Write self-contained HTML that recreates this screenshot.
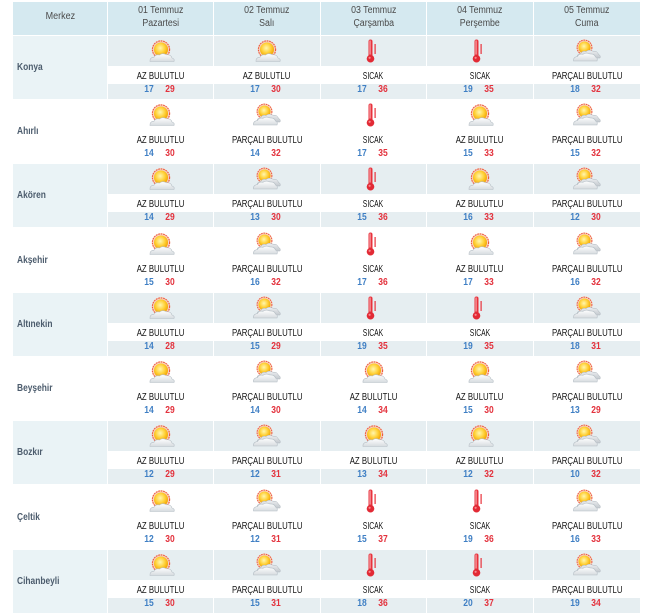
<!DOCTYPE html>
<html><head><meta charset="utf-8">
<style>
*{box-sizing:border-box}
body{margin:0;background:#fff;width:653px;height:615px;position:relative;overflow:hidden;font-family:"Liberation Sans","DejaVu Sans",sans-serif}
.h{position:absolute;top:2px;height:33px;background:#d5e9f0;text-align:center;color:#4a4a4a;font-size:10px;padding-top:2px}
.h span{display:inline-block;transform:scaleX(.88);line-height:13px}
.h.mk{line-height:30px;padding-top:0}
.h.mk span{line-height:30px;transform:scaleX(.9)}
.r{position:absolute;left:0;width:653px;height:63px}
.m{position:absolute;left:13px;width:94px;top:0;height:63px;line-height:63px;padding-left:4px;font-size:10px;font-weight:bold;color:#4c5c6d}
.m span{display:inline-block;transform:scaleX(.84);transform-origin:0 50%}
.d{position:absolute;top:0;height:63px}
.c1{left:108px;width:105px}.c2{left:214px;width:106px}.c3{left:321px;width:105px}.c4{left:427px;width:106px}.c5{left:534px;width:105.5px}
.ic{height:30px;position:relative}
.ic svg{position:absolute;left:50%;margin-left:-15px;top:0}
.tx{height:18px;background:#fff;text-align:center;font-size:10px;color:#141414;line-height:21px;white-space:nowrap}
.tx span{display:inline-block;transform:scaleX(.78)}
.tx span.sk{transform:scaleX(.68)}
.tp{height:15px;position:relative;font-size:10px;line-height:11px}
.lo,.hi{position:absolute;top:0;width:14px;text-align:center;left:50%;font-weight:bold;transform:scaleX(.85)}
.lo{margin-left:-19px;color:#3f7fc4}
.hi{margin-left:2px;color:#e3323d}
.s .ic,.s .tp{background:#e6eef1}
.s .m{background:#eaf3f6}
</style></head><body>
<svg width="0" height="0" style="position:absolute">
<defs>
<radialGradient id="sg" cx="45%" cy="40%" r="60%"><stop offset="0" stop-color="#fff6b0"/><stop offset=".55" stop-color="#ffd23a"/><stop offset="1" stop-color="#f3a200"/></radialGradient>
<linearGradient id="cg" x1="0" y1="0" x2="0" y2="1"><stop offset="0" stop-color="#ffffff"/><stop offset="1" stop-color="#d6dbdf"/></linearGradient>
<linearGradient id="cg2" x1="0" y1="0" x2="0" y2="1"><stop offset="0" stop-color="#eef0f2"/><stop offset="1" stop-color="#c3c9ce"/></linearGradient>
<symbol id="az" viewBox="0 0 30 30">
<circle cx="15" cy="13.5" r="9.2" fill="#f9c2ac" opacity=".75"/>
<circle cx="15" cy="13.5" r="8.6" fill="none" stroke="#ec5a3c" stroke-width="1.1" stroke-dasharray="1.6 .9"/>
<circle cx="15" cy="13.5" r="7" fill="url(#sg)"/>
<path d="M4 25.5 Q3.5 21.5 8 21.2 Q9.5 18 13.5 19 Q16.5 16.5 20.5 18.8 Q25 18.3 26 22 Q29 22.8 28 25.5 Z" fill="url(#cg)" stroke="#b5bec5" stroke-width=".6"/>
</symbol>
<symbol id="pc" viewBox="0 0 30 30">
<circle cx="12.5" cy="11.5" r="8" fill="#f9c2ac" opacity=".75"/>
<circle cx="12.5" cy="11.5" r="7.4" fill="none" stroke="#ec5a3c" stroke-width="1" stroke-dasharray="1.5 .9"/>
<circle cx="12.5" cy="11.5" r="6" fill="url(#sg)"/>
<path d="M5 22 Q4.5 18 8.5 17.8 Q10 14.5 14 15.5 Q17 13 21 15.2 Q25.5 14.8 26.5 18.5 Q29 19.3 28 22 Z" fill="url(#cg2)" stroke="#aeb6bd" stroke-width=".5"/>
<path d="M1.5 25 Q1 21 5.5 20.5 Q7 17.5 11 18.3 Q14 16 18 18 Q22.5 17.7 23.5 21 Q26 21.8 25 25 Z" fill="url(#cg)" stroke="#b5bec5" stroke-width=".6"/>
</symbol>
<symbol id="th" viewBox="0 0 30 30">
<rect x="9.5" y="3.5" width="4" height="18.5" rx="2" fill="#e8323c"/>
<rect x="10.4" y="4.5" width="1.3" height="14" fill="#f6a0a5"/>
<circle cx="11.5" cy="22.7" r="3.8" fill="#e22a35"/>
<circle cx="10.6" cy="21.8" r="1.1" fill="#f58a90"/>
<rect x="15.5" y="8" width="1.2" height="10" fill="#e8323c"/>
</symbol>
</defs>
</svg>

<div class="h mk" style="left:13px;width:94px"><span>Merkez</span></div>
<div class="h c1"><span>01 Temmuz<br>Pazartesi</span></div>
<div class="h c2"><span>02 Temmuz<br>Salı</span></div>
<div class="h c3"><span>03 Temmuz<br>Çarşamba</span></div>
<div class="h c4"><span>04 Temmuz<br>Perşembe</span></div>
<div class="h c5"><span>05 Temmuz<br>Cuma</span></div>

<!-- Konya -->
<div class="r s" style="top:36px">
<div class="m"><span>Konya</span></div>
<div class="d c1"><div class="ic"><svg width="30" height="30"><use href="#az"/></svg></div><div class="tx"><span>AZ BULUTLU</span></div><div class="tp"><b class="lo">17</b><b class="hi">29</b></div></div>
<div class="d c2"><div class="ic"><svg width="30" height="30"><use href="#az"/></svg></div><div class="tx"><span>AZ BULUTLU</span></div><div class="tp"><b class="lo">17</b><b class="hi">30</b></div></div>
<div class="d c3"><div class="ic"><svg width="30" height="30"><use href="#th"/></svg></div><div class="tx"><span class="sk">SICAK</span></div><div class="tp"><b class="lo">17</b><b class="hi">36</b></div></div>
<div class="d c4"><div class="ic"><svg width="30" height="30"><use href="#th"/></svg></div><div class="tx"><span class="sk">SICAK</span></div><div class="tp"><b class="lo">19</b><b class="hi">35</b></div></div>
<div class="d c5"><div class="ic"><svg width="30" height="30"><use href="#pc"/></svg></div><div class="tx"><span>PARÇALI BULUTLU</span></div><div class="tp"><b class="lo">18</b><b class="hi">32</b></div></div>
</div>

<!-- Ahırlı -->
<div class="r" style="top:100px">
<div class="m"><span>Ahırlı</span></div>
<div class="d c1"><div class="ic"><svg width="30" height="30"><use href="#az"/></svg></div><div class="tx"><span>AZ BULUTLU</span></div><div class="tp"><b class="lo">14</b><b class="hi">30</b></div></div>
<div class="d c2"><div class="ic"><svg width="30" height="30"><use href="#pc"/></svg></div><div class="tx"><span>PARÇALI BULUTLU</span></div><div class="tp"><b class="lo">14</b><b class="hi">32</b></div></div>
<div class="d c3"><div class="ic"><svg width="30" height="30"><use href="#th"/></svg></div><div class="tx"><span class="sk">SICAK</span></div><div class="tp"><b class="lo">17</b><b class="hi">35</b></div></div>
<div class="d c4"><div class="ic"><svg width="30" height="30"><use href="#az"/></svg></div><div class="tx"><span>AZ BULUTLU</span></div><div class="tp"><b class="lo">15</b><b class="hi">33</b></div></div>
<div class="d c5"><div class="ic"><svg width="30" height="30"><use href="#pc"/></svg></div><div class="tx"><span>PARÇALI BULUTLU</span></div><div class="tp"><b class="lo">15</b><b class="hi">32</b></div></div>
</div>

<!-- Akören -->
<div class="r s" style="top:164px">
<div class="m"><span>Akören</span></div>
<div class="d c1"><div class="ic"><svg width="30" height="30"><use href="#az"/></svg></div><div class="tx"><span>AZ BULUTLU</span></div><div class="tp"><b class="lo">14</b><b class="hi">29</b></div></div>
<div class="d c2"><div class="ic"><svg width="30" height="30"><use href="#pc"/></svg></div><div class="tx"><span>PARÇALI BULUTLU</span></div><div class="tp"><b class="lo">13</b><b class="hi">30</b></div></div>
<div class="d c3"><div class="ic"><svg width="30" height="30"><use href="#th"/></svg></div><div class="tx"><span class="sk">SICAK</span></div><div class="tp"><b class="lo">15</b><b class="hi">36</b></div></div>
<div class="d c4"><div class="ic"><svg width="30" height="30"><use href="#az"/></svg></div><div class="tx"><span>AZ BULUTLU</span></div><div class="tp"><b class="lo">16</b><b class="hi">33</b></div></div>
<div class="d c5"><div class="ic"><svg width="30" height="30"><use href="#pc"/></svg></div><div class="tx"><span>PARÇALI BULUTLU</span></div><div class="tp"><b class="lo">12</b><b class="hi">30</b></div></div>
</div>

<!-- Akşehir -->
<div class="r" style="top:229px">
<div class="m"><span>Akşehir</span></div>
<div class="d c1"><div class="ic"><svg width="30" height="30"><use href="#az"/></svg></div><div class="tx"><span>AZ BULUTLU</span></div><div class="tp"><b class="lo">15</b><b class="hi">30</b></div></div>
<div class="d c2"><div class="ic"><svg width="30" height="30"><use href="#pc"/></svg></div><div class="tx"><span>PARÇALI BULUTLU</span></div><div class="tp"><b class="lo">16</b><b class="hi">32</b></div></div>
<div class="d c3"><div class="ic"><svg width="30" height="30"><use href="#th"/></svg></div><div class="tx"><span class="sk">SICAK</span></div><div class="tp"><b class="lo">17</b><b class="hi">36</b></div></div>
<div class="d c4"><div class="ic"><svg width="30" height="30"><use href="#az"/></svg></div><div class="tx"><span>AZ BULUTLU</span></div><div class="tp"><b class="lo">17</b><b class="hi">33</b></div></div>
<div class="d c5"><div class="ic"><svg width="30" height="30"><use href="#pc"/></svg></div><div class="tx"><span>PARÇALI BULUTLU</span></div><div class="tp"><b class="lo">16</b><b class="hi">32</b></div></div>
</div>

<!-- Altınekin -->
<div class="r s" style="top:293px">
<div class="m"><span>Altınekin</span></div>
<div class="d c1"><div class="ic"><svg width="30" height="30"><use href="#az"/></svg></div><div class="tx"><span>AZ BULUTLU</span></div><div class="tp"><b class="lo">14</b><b class="hi">28</b></div></div>
<div class="d c2"><div class="ic"><svg width="30" height="30"><use href="#pc"/></svg></div><div class="tx"><span>PARÇALI BULUTLU</span></div><div class="tp"><b class="lo">15</b><b class="hi">29</b></div></div>
<div class="d c3"><div class="ic"><svg width="30" height="30"><use href="#th"/></svg></div><div class="tx"><span class="sk">SICAK</span></div><div class="tp"><b class="lo">19</b><b class="hi">35</b></div></div>
<div class="d c4"><div class="ic"><svg width="30" height="30"><use href="#th"/></svg></div><div class="tx"><span class="sk">SICAK</span></div><div class="tp"><b class="lo">19</b><b class="hi">35</b></div></div>
<div class="d c5"><div class="ic"><svg width="30" height="30"><use href="#pc"/></svg></div><div class="tx"><span>PARÇALI BULUTLU</span></div><div class="tp"><b class="lo">18</b><b class="hi">31</b></div></div>
</div>

<!-- Beyşehir -->
<div class="r" style="top:357px">
<div class="m"><span>Beyşehir</span></div>
<div class="d c1"><div class="ic"><svg width="30" height="30"><use href="#az"/></svg></div><div class="tx"><span>AZ BULUTLU</span></div><div class="tp"><b class="lo">14</b><b class="hi">29</b></div></div>
<div class="d c2"><div class="ic"><svg width="30" height="30"><use href="#pc"/></svg></div><div class="tx"><span>PARÇALI BULUTLU</span></div><div class="tp"><b class="lo">14</b><b class="hi">30</b></div></div>
<div class="d c3"><div class="ic"><svg width="30" height="30"><use href="#az"/></svg></div><div class="tx"><span>AZ BULUTLU</span></div><div class="tp"><b class="lo">14</b><b class="hi">34</b></div></div>
<div class="d c4"><div class="ic"><svg width="30" height="30"><use href="#az"/></svg></div><div class="tx"><span>AZ BULUTLU</span></div><div class="tp"><b class="lo">15</b><b class="hi">30</b></div></div>
<div class="d c5"><div class="ic"><svg width="30" height="30"><use href="#pc"/></svg></div><div class="tx"><span>PARÇALI BULUTLU</span></div><div class="tp"><b class="lo">13</b><b class="hi">29</b></div></div>
</div>

<!-- Bozkır -->
<div class="r s" style="top:421px">
<div class="m"><span>Bozkır</span></div>
<div class="d c1"><div class="ic"><svg width="30" height="30"><use href="#az"/></svg></div><div class="tx"><span>AZ BULUTLU</span></div><div class="tp"><b class="lo">12</b><b class="hi">29</b></div></div>
<div class="d c2"><div class="ic"><svg width="30" height="30"><use href="#pc"/></svg></div><div class="tx"><span>PARÇALI BULUTLU</span></div><div class="tp"><b class="lo">12</b><b class="hi">31</b></div></div>
<div class="d c3"><div class="ic"><svg width="30" height="30"><use href="#az"/></svg></div><div class="tx"><span>AZ BULUTLU</span></div><div class="tp"><b class="lo">13</b><b class="hi">34</b></div></div>
<div class="d c4"><div class="ic"><svg width="30" height="30"><use href="#az"/></svg></div><div class="tx"><span>AZ BULUTLU</span></div><div class="tp"><b class="lo">12</b><b class="hi">32</b></div></div>
<div class="d c5"><div class="ic"><svg width="30" height="30"><use href="#pc"/></svg></div><div class="tx"><span>PARÇALI BULUTLU</span></div><div class="tp"><b class="lo">10</b><b class="hi">32</b></div></div>
</div>

<!-- Çeltik -->
<div class="r" style="top:486px">
<div class="m"><span>Çeltik</span></div>
<div class="d c1"><div class="ic"><svg width="30" height="30"><use href="#az"/></svg></div><div class="tx"><span>AZ BULUTLU</span></div><div class="tp"><b class="lo">12</b><b class="hi">30</b></div></div>
<div class="d c2"><div class="ic"><svg width="30" height="30"><use href="#pc"/></svg></div><div class="tx"><span>PARÇALI BULUTLU</span></div><div class="tp"><b class="lo">12</b><b class="hi">31</b></div></div>
<div class="d c3"><div class="ic"><svg width="30" height="30"><use href="#th"/></svg></div><div class="tx"><span class="sk">SICAK</span></div><div class="tp"><b class="lo">15</b><b class="hi">37</b></div></div>
<div class="d c4"><div class="ic"><svg width="30" height="30"><use href="#th"/></svg></div><div class="tx"><span class="sk">SICAK</span></div><div class="tp"><b class="lo">19</b><b class="hi">36</b></div></div>
<div class="d c5"><div class="ic"><svg width="30" height="30"><use href="#pc"/></svg></div><div class="tx"><span>PARÇALI BULUTLU</span></div><div class="tp"><b class="lo">16</b><b class="hi">33</b></div></div>
</div>

<!-- Cihanbeyli -->
<div class="r s" style="top:550px">
<div class="m"><span>Cihanbeyli</span></div>
<div class="d c1"><div class="ic"><svg width="30" height="30"><use href="#az"/></svg></div><div class="tx"><span>AZ BULUTLU</span></div><div class="tp"><b class="lo">15</b><b class="hi">30</b></div></div>
<div class="d c2"><div class="ic"><svg width="30" height="30"><use href="#pc"/></svg></div><div class="tx"><span>PARÇALI BULUTLU</span></div><div class="tp"><b class="lo">15</b><b class="hi">31</b></div></div>
<div class="d c3"><div class="ic"><svg width="30" height="30"><use href="#th"/></svg></div><div class="tx"><span class="sk">SICAK</span></div><div class="tp"><b class="lo">18</b><b class="hi">36</b></div></div>
<div class="d c4"><div class="ic"><svg width="30" height="30"><use href="#th"/></svg></div><div class="tx"><span class="sk">SICAK</span></div><div class="tp"><b class="lo">20</b><b class="hi">37</b></div></div>
<div class="d c5"><div class="ic"><svg width="30" height="30"><use href="#pc"/></svg></div><div class="tx"><span>PARÇALI BULUTLU</span></div><div class="tp"><b class="lo">19</b><b class="hi">34</b></div></div>
</div>

</body></html>
